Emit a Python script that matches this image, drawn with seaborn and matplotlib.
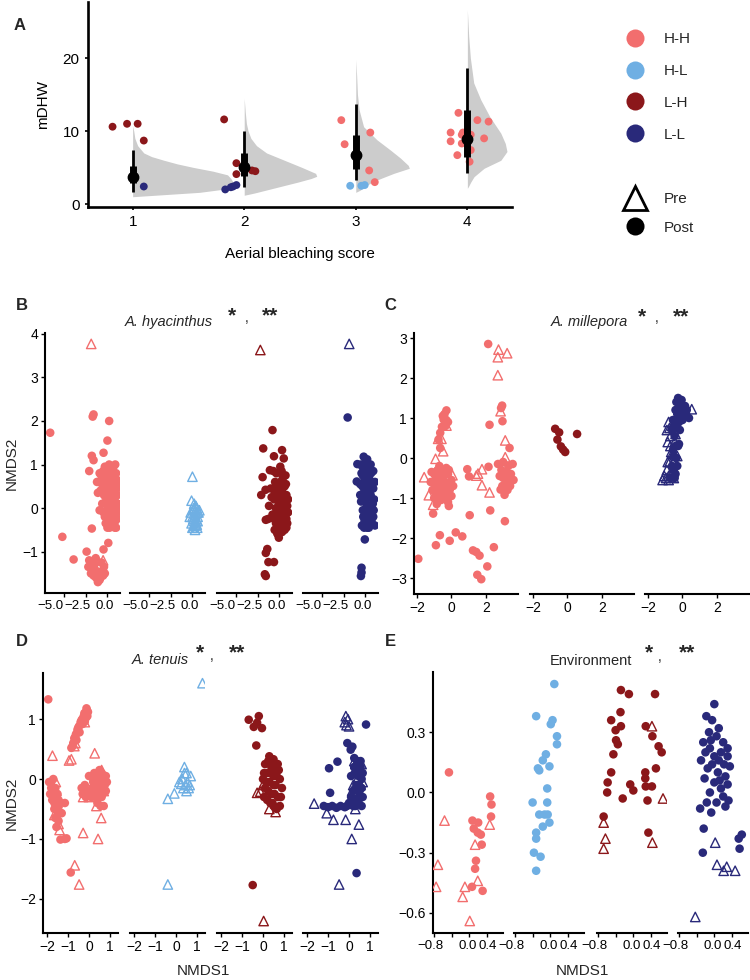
import matplotlib
matplotlib.use("Agg")
import matplotlib.pyplot as plt
import numpy as np
import pandas as pd
import seaborn as sns
from matplotlib.lines import Line2D
from matplotlib.transforms import ScaledTranslation

# ---------------- data ----------------
groups = ["H-H", "H-L", "L-H", "L-L"]
group_colors = ["#F26E6E", "#6FAFE3", "#8B171A", "#29297A"]
PAL = dict(zip(groups, group_colors))

# Panel A: half-eye densities (mDHW level, density width) per aerial bleaching score
scores = [1, 2, 3, 4]
dens_y_s1 = [1.0, 1.3, 1.6, 2.0, 2.5, 3.0, 3.5, 4.0, 4.5, 5.0, 5.5, 6.0, 6.5, 7.0, 8.0, 9.0, 10.0, 10.7]
dens_w_s1 = [0.0, 0.3, 0.6, 0.8, 0.88, 0.9, 0.88, 0.85, 0.72, 0.55, 0.4, 0.28, 0.17, 0.1, 0.045, 0.02, 0.01, 0.0]
dens_y_s2 = [1.2, 1.5, 2.0, 2.5, 3.0, 3.5, 3.8, 4.2, 5.0, 6.0, 7.0, 8.0, 9.0, 10.0, 11.0, 12.5, 14.5]
dens_w_s2 = [0.0, 0.09, 0.22, 0.35, 0.48, 0.6, 0.65, 0.64, 0.52, 0.36, 0.2, 0.11, 0.06, 0.035, 0.02, 0.01, 0.0]
dens_y_s3 = [1.6, 1.9, 2.5, 3.1, 3.6, 4.2, 4.9, 5.3, 6.3, 7.4, 8.8, 10.6, 12.9, 15.0, 17.5, 19.8]
dens_w_s3 = [0.0, 0.04, 0.09, 0.16, 0.24, 0.34, 0.48, 0.47, 0.4, 0.31, 0.19, 0.07, 0.03, 0.015, 0.008, 0.0]
dens_y_s4 = [2.15, 2.4, 3.0, 3.75, 4.9, 6.0, 7.2, 8.3, 9.7, 12.0, 14.3, 16.6, 20.0, 23.0, 26.6]
dens_w_s4 = [0.0, 0.01, 0.03, 0.06, 0.15, 0.3, 0.355, 0.34, 0.3, 0.2, 0.12, 0.057, 0.027, 0.012, 0.0]

median_mdhw = [3.7, 5.1, 6.7, 8.9]
q66_low = [2.9, 3.8, 4.8, 6.5]
q66_high = [5.2, 7.0, 9.5, 12.9]
q95_low = [1.7, 2.4, 3.3, 4.3]
q95_high = [7.4, 10.0, 13.7, 18.6]

A_pt_x = [0.82, 0.95, 1.045, 1.10, 1.10,
          1.82, 1.93, 1.93, 2.07, 2.10, 1.83, 1.88, 1.90, 1.93,
          2.87, 2.90, 3.13, 3.12, 3.17, 2.95, 3.05, 3.08,
          3.92, 3.85, 3.85, 3.95, 3.96, 3.95, 4.00, 4.03, 4.03, 3.91, 4.02, 4.09, 4.19, 4.15]
A_pt_y = [10.6, 11.0, 11.0, 8.7, 2.4,
          11.6, 5.6, 4.1, 4.6, 4.5, 2.0, 2.3, 2.4, 2.6,
          11.5, 8.2, 9.8, 4.6, 3.0, 2.5, 2.5, 2.6,
          12.5, 9.8, 8.6, 9.5, 9.8, 8.3, 8.2, 9.5, 7.4, 6.7, 5.8, 11.5, 11.3, 9.0]
A_pt_group = (["L-H"] * 4 + ["L-L"] +
              ["L-H"] * 5 + ["L-L"] * 4 +
              ["H-H"] * 5 + ["H-L"] * 3 +
              ["H-H"] * 14)

# Panel B: A. hyacinthus NMDS
B_HH_post = [(-6.6, 1.73), (-5.2, -0.66), (-3.9, -1.18), (-1.7, 2.1), (-1.6, 2.15), (0.2, 2.0), (0.0, 1.55),
             (-0.45, 1.27), (-1.8, 1.2), (-1.6, 1.1), (-2.1, 0.85), (-1.8, -0.47), (0.1, -0.8), (-0.45, -0.95),
             (-2.4, -1.0), (-2.1, -1.2), (-1.7, -1.4), (-1.2, -1.45), (-0.8, -1.6), (-1.3, -1.6), (-1.9, -1.5),
             (-0.9, -1.65), (-0.6, -1.45), (-1.1, -1.7), (-0.4, -1.35), (-1.5, -1.3), (-0.7, -1.25), (-1.0, -1.5),
             (-1.6, -1.55), (-0.5, -1.55), (-1.35, -1.15), (-2.2, -1.35), (-0.3, -1.5),
             (-1.0, 0.6), (-0.6, 0.55), (-0.2, 0.7), (0.3, 0.9), (0.7, 0.95), (1.0, 0.8), (0.5, 0.75), (-0.3, 0.95),
             (0.1, 0.45), (0.6, 0.5), (1.1, 0.45), (-0.8, 0.4), (-0.4, 0.3), (0.0, 0.2), (0.4, 0.3), (0.9, 0.25),
             (1.2, 0.1), (-1.2, 0.6), (-0.6, 0.1), (-0.1, -0.05), (0.3, 0.05), (0.7, 0.0), (1.0, -0.1), (-0.9, -0.05),
             (0.5, -0.2), (0.9, -0.3), (0.2, -0.3), (-0.3, -0.2), (0.6, -0.4), (1.0, -0.45), (0.0, -0.45), (0.4, 0.6),
             (0.8, 0.65), (-0.1, 0.5), (0.2, 1.0), (0.9, 1.0), (-0.5, 0.85), (1.2, 0.6), (0.5, 0.15), (0.8, -0.1),
             (1.1, -0.25), (0.3, -0.1), (-0.2, 0.25), (0.6, 0.85), (0.1, 0.7), (-0.7, 0.75), (1.0, 0.3), (0.4, -0.35),
             (0.7, 0.35), (0.2, 0.35),
             (0.05, 0.85), (0.45, 0.95), (0.75, 0.8), (1.05, 0.65), (-0.05, 0.6), (0.35, 0.5), (0.65, 0.6),
             (0.95, 0.5), (-0.35, 0.45), (0.15, 0.3), (0.55, 0.35), (0.85, 0.4), (1.15, 0.3), (-0.15, 0.1),
             (0.25, 0.15), (0.6, 0.2), (0.95, 0.1), (0.05, -0.1), (0.45, -0.05), (0.75, -0.2), (0.15, -0.2),
             (0.55, -0.3), (0.85, -0.45), (0.25, -0.45), (-0.2, -0.35), (0.65, 0.1), (0.35, 0.75), (0.0, 0.35),
             (0.8, 0.15), (1.1, 0.05), (-0.5, 0.65), (-0.9, 0.8), (-1.1, 0.35), (0.5, 0.45), (0.2, 0.6), (0.9, 0.7),
             (0.4, -0.15), (-0.45, -0.1), (0.7, -0.35), (1.15, -0.1)]
B_HH_pre = [(-1.87, 3.77), (-0.5, -1.2)]
B_HL_post = []
B_HL_pre = [(0.0, 0.72), (-0.1, 0.17), (0.2, 0.1), (0.5, 0.0), (0.1, -0.05), (0.7, -0.1), (0.3, -0.15), (-0.2, -0.1),
            (0.6, -0.2), (0.1, -0.25), (0.4, -0.3), (-0.1, -0.35), (0.2, -0.4), (0.5, -0.38), (0.0, -0.45),
            (0.3, -0.5), (0.8, -0.05), (-0.3, -0.2), (0.4, 0.05), (0.6, -0.3),
            (0.15, 0.0), (0.35, -0.05), (0.55, -0.1), (0.25, -0.2), (0.45, -0.25), (0.0, -0.2), (0.2, -0.3),
            (0.35, -0.4), (0.1, -0.45), (0.55, -0.45)]
B_LH_post = [(-0.8, 1.79), (-1.87, 1.37), (0.3, 1.33), (-0.63, 1.19), (0.5, 1.14), (-1.94, 0.71), (-1.1, 0.87),
             (-2.1, 0.3), (-1.6, 0.42), (-1.57, -0.27), (-0.26, -0.57), (-0.07, -0.68), (-1.4, -0.94), (-1.57, -1.03),
             (-1.27, -1.24), (-0.63, -1.24), (-1.68, -1.52), (-1.57, -1.56),
             (-0.5, 0.6), (0.2, 0.55), (0.6, 0.5), (-1.0, 0.45), (-0.2, 0.4), (0.8, 0.3), (0.3, 0.25), (-0.6, 0.2),
             (0.0, 0.1), (0.9, 0.05), (-1.2, 0.05), (0.5, 0.0), (-0.3, -0.05), (0.2, -0.1), (0.7, -0.15), (-0.8, -0.15),
             (0.0, -0.25), (0.4, -0.3), (0.9, -0.35), (-0.4, -0.35), (0.1, -0.45), (0.6, -0.5), (-1.3, -0.25),
             (1.0, 0.2), (-0.1, 0.3), (0.4, 0.7), (-0.7, 0.85), (0.1, 0.95), (-0.4, 0.0), (0.7, 0.75), (0.3, -0.55),
             (-0.2, -0.6), (0.8, -0.45),
             (-0.3, 0.5), (0.1, 0.6), (0.5, 0.3), (-0.1, 0.15), (0.3, 0.05), (0.7, 0.1), (-0.5, 0.35), (0.0, -0.05),
             (0.4, -0.15), (0.8, -0.25), (-0.6, -0.25), (-0.2, -0.15), (0.2, -0.35), (0.6, -0.25), (-0.1, -0.45),
             (0.35, 0.45), (0.75, 0.55), (-0.35, 0.8), (0.25, 0.85), (0.55, -0.4), (-0.9, 0.25), (1.0, -0.1),
             (-0.55, -0.5), (0.15, 0.35)]
B_LH_pre = [(-2.2, 3.63)]
B_LL_post = [(-2.05, 2.08), (-0.93, 1.01), (-1.0, 0.61), (-0.07, -0.72), (-0.45, -1.37), (-0.45, -1.48), (-0.52, -1.56),
             (-0.2, 1.18), (0.2, 1.12), (0.6, 1.0), (-0.5, 1.0), (0.0, 0.9), (0.9, 0.85), (-0.3, 0.75), (0.4, 0.7),
             (1.1, 0.6), (-0.6, 0.55), (0.1, 0.5), (0.7, 0.45), (-0.2, 0.35), (0.4, 0.25), (1.0, 0.2), (-0.5, 0.15),
             (0.1, 0.1), (0.7, 0.0), (-0.3, -0.05), (0.3, -0.15), (0.9, -0.2), (-0.1, -0.3), (0.5, -0.35),
             (-0.4, -0.4), (0.2, -0.45), (1.1, -0.4), (0.8, 0.6), (-0.1, 0.65), (0.5, 0.95),
             (0.0, 1.05), (0.35, 1.0), (-0.35, 0.95), (0.25, 0.85), (0.65, 0.8), (-0.45, 0.8), (0.05, 0.7),
             (0.5, 0.55), (0.9, 0.45), (-0.35, 0.5), (0.25, 0.4), (0.6, 0.3), (-0.1, 0.2), (0.3, 0.05), (0.85, 0.1),
             (0.0, -0.1), (0.5, -0.1), (-0.25, -0.2), (0.15, -0.3), (0.7, -0.3), (-0.15, -0.45), (0.4, -0.45),
             (0.95, -0.05), (-0.6, 0.3)]
B_LL_pre = [(-1.87, 3.77)]

# Panel C: A. millepora NMDS
C_HH_post = [(-1.92, -2.52), (-1.06, -1.39), (-0.9, -2.18), (-0.67, -1.93), (-0.1, -2.07), (0.25, -1.86), (0.63, -1.96),
             (1.06, -1.43), (1.25, -2.31), (1.44, -2.35), (1.63, -2.44), (1.5, -2.92), (1.73, -3.03), (2.08, -2.71),
             (2.46, -2.23), (2.25, -1.31), (3.1, -1.58), (2.21, 0.83), (2.13, 2.85), (2.94, 1.31), (2.88, 1.25),
             (2.96, 0.92), (3.37, 0.25), (0.92, -0.28), (1.02, -0.46), (2.15, -0.22), (3.08, -0.92), (2.85, -0.79),
             (2.7, -0.15), (3.0, -0.1), (3.3, -0.2), (3.55, -0.15), (2.9, -0.3), (3.2, -0.35), (3.45, -0.4),
             (3.0, -0.5), (3.3, -0.55), (3.6, -0.55), (2.8, -0.45), (3.15, -0.65), (3.4, -0.7), (2.95, -0.7),
             (3.25, -0.8),
             (-0.29, 1.19), (-0.4, 1.1), (-0.45, 0.96), (-0.55, 0.78), (-0.65, 0.63), (-0.75, 0.46), (-0.65, 0.25),
             (-0.3, 0.95), (-0.2, 0.9), (-0.5, 1.05), (-0.35, 0.8),
             (-1.2, -0.6), (-1.0, -0.4), (-0.8, -0.3), (-0.6, -0.45), (-0.4, -0.6), (-0.2, -0.4), (0.0, -0.55),
             (-1.1, -0.8), (-0.9, -0.7), (-0.7, -0.6), (-0.5, -0.75), (-0.3, -0.85), (-0.1, -0.8), (0.1, -0.7),
             (-1.0, -1.0), (-0.8, -0.95), (-0.6, -1.05), (-0.4, -1.0), (-0.2, -1.1), (0.0, -0.95), (-0.7, -0.2),
             (-0.9, -0.5), (-0.5, -0.3), (-0.3, -0.25), (-0.85, -1.15), (-0.15, -1.2), (-1.15, -0.35), (-0.65, -0.85),
             (-1.05, -0.6), (-0.75, -0.45), (-0.45, -0.45), (-0.25, -0.65), (-0.95, -0.85), (-0.55, -0.95),
             (-0.35, -0.75), (-0.05, -0.65), (-0.9, -0.35), (-0.6, -0.6), (-0.8, -0.75), (-0.15, -0.3)]
C_HH_pre = [(2.73, 2.71), (3.23, 2.62), (2.69, 2.52), (2.69, 2.07), (2.85, 1.17), (3.12, 0.44), (3.12, 0.02),
            (1.77, -0.28), (1.54, -0.39), (1.44, -0.44), (1.77, -0.68), (2.21, -0.86), (-1.58, -0.48),
            (-0.92, -0.02), (-0.77, 0.48), (-0.58, 0.48), (-0.48, 0.17), (-0.29, 0.81), (0.06, -0.43),
            (-1.31, -0.93), (-1.06, -1.17)]
C_LH_post = [(-0.71, 0.73), (-0.48, 0.64), (-0.58, 0.46), (-0.38, 0.29), (-0.25, 0.21), (-0.13, 0.15), (0.56, 0.6)]
C_LH_pre = []
C_LL_post = [(-0.25, 1.5), (-0.1, 1.3), (0.1, 1.25), (-0.4, 1.2), (0.2, 1.1), (-0.2, 1.05), (0.38, 1.0), (-0.55, 0.95),
             (0.0, 0.95), (-0.3, 0.85), (-0.6, 0.7), (-0.15, 0.7), (-0.45, 0.55), (-0.25, 0.3), (-0.55, 0.2),
             (-0.35, 0.0), (-0.6, -0.2), (-0.4, -0.4), (-0.7, -0.5), (-0.2, 0.35), (-0.5, -0.3), (0.05, 1.15),
             (-0.35, 1.4),
             (-0.15, 1.2), (0.15, 1.3), (-0.05, 1.45), (0.25, 1.2), (-0.3, 1.1), (0.1, 1.05), (-0.45, 0.8),
             (-0.2, 0.9), (-0.4, 0.3), (-0.3, -0.2), (-0.5, 0.05), (-0.45, -0.5)]
C_LL_pre = [(0.54, 1.22), (-0.8, 0.9), (-0.9, 0.7), (-0.7, 0.55), (-0.85, 0.4), (-0.6, 0.1), (-0.75, -0.1),
            (-0.9, -0.3), (-1.05, -0.45), (-0.8, -0.55), (-1.15, -0.55), (-0.5, -0.5), (-0.65, 0.15), (-0.4, 0.6),
            (-0.95, -0.5), (-0.3, 0.05),
            (-0.6, 0.8), (-0.75, 0.75), (-0.45, 0.4), (-0.7, 0.3), (-0.55, -0.1), (-0.85, -0.1), (-0.65, -0.35),
            (-0.8, -0.45)]

# Panel D: A. tenuis NMDS
D_HH_post = [(-1.94, 1.33), (-0.87, -1.56), (-1.36, -1.01), (-1.15, -1.0), (-1.07, -0.99), (-1.15, -0.4), (-1.3, -0.57),
             (-0.84, 0.52), (-0.75, 0.6), (-0.7, 0.68), (-0.62, 0.75), (-0.55, 0.82), (-0.48, 0.88), (-0.4, 0.95),
             (-0.32, 1.0), (-0.25, 1.05), (-0.18, 1.1), (-0.1, 1.15), (-0.05, 1.12), (-0.15, 1.02), (-0.3, 0.92),
             (-0.45, 0.78), (-0.6, 0.65), (-0.2, 0.96), (-0.08, 1.05),
             (-0.78, 0.55), (-0.66, 0.7), (-0.52, 0.85), (-0.36, 0.98), (-0.22, 1.1), (-0.12, 1.18),
             (-1.9, -0.05), (-1.8, -0.15), (-1.7, -0.25), (-1.75, -0.35), (-1.6, -0.3), (-1.55, -0.45), (-1.65, -0.5),
             (-1.5, -0.6), (-1.45, -0.7), (-1.55, -0.8), (-1.4, -0.55), (-1.8, -0.05), (-1.7, 0.0), (-1.35, -0.4),
             (-1.6, -0.15), (-1.45, -0.35),
             (-1.75, -0.2), (-1.65, -0.4), (-1.5, -0.5), (-1.6, -0.65), (-1.5, -0.25), (-1.85, -0.25),
             (-0.35, -0.15), (-0.2, -0.1), (0.0, -0.2), (0.2, -0.05), (0.4, 0.05), (0.6, 0.1), (0.7, 0.0),
             (0.5, -0.15), (0.3, -0.25), (0.1, -0.3), (-0.1, -0.2), (0.6, -0.3), (0.8, -0.2), (0.4, -0.4),
             (0.7, -0.45), (0.2, 0.0), (-0.3, -0.25), (0.5, 0.15), (0.85, -0.05), (0.3, -0.1), (0.65, -0.25),
             (0.45, -0.3), (0.55, 0.0),
             (0.0, 0.05), (0.25, 0.1), (0.45, -0.05), (0.75, -0.1), (0.15, -0.15), (0.35, -0.3), (0.55, -0.45),
             (-0.15, -0.3), (0.8, 0.05), (0.6, -0.05)]
D_HH_pre = [(-1.74, 0.39), (-0.95, 0.31), (-0.84, 0.33), (0.27, 0.43), (-0.28, -0.3), (-0.28, -0.9), (0.43, -1.0),
            (0.58, -0.65), (-0.68, -1.44), (-0.47, -1.76), (-1.58, -0.05), (-1.55, -0.2), (-1.5, -0.4),
            (-1.45, -0.75), (-1.4, -0.85), (-0.7, 0.55), (-0.65, 0.6), (-0.2, 0.95), (0.0, -0.3), (0.35, -0.45),
            (0.6, 0.15), (0.7, -0.2), (-1.65, -0.6)]
D_HL_post = []
D_HL_pre = [(1.26, 1.6), (-0.39, -1.76), (-0.39, -0.33), (-0.08, -0.24), (0.16, -0.05), (0.4, 0.2), (0.5, 0.1),
            (0.3, 0.0), (0.55, -0.05), (0.7, 0.05), (0.45, -0.1), (0.35, -0.15), (0.6, -0.15), (0.4, 0.1),
            (0.5, -0.2), (0.25, -0.08), (0.65, -0.1)]
D_LH_post = [(-0.68, 0.99), (-0.2, 1.05), (-0.44, 0.87), (-0.05, 0.85), (-0.28, 0.94), (-0.32, 0.56), (-0.49, -1.77),
             (0.3, 0.38), (0.5, 0.33), (0.1, 0.25), (0.4, 0.2), (0.7, 0.25), (0.2, 0.1), (0.5, 0.05), (0.8, 0.0),
             (0.0, 0.0), (0.3, -0.05), (0.6, -0.1), (0.9, -0.15), (0.1, -0.15), (0.4, -0.25), (0.7, -0.3),
             (0.2, -0.35), (0.5, -0.45), (0.8, -0.45), (0.35, 0.3), (0.6, 0.18), (0.15, -0.05), (0.65, -0.5),
             (0.45, -0.4),
             (0.25, 0.3), (0.55, 0.25), (0.05, 0.1), (0.35, 0.1), (0.65, 0.05), (0.25, -0.2), (0.55, -0.25),
             (0.85, -0.3), (0.05, -0.3), (0.35, -0.4), (0.75, 0.15), (0.5, -0.1)]
D_LH_pre = [(-0.28, -0.23), (-0.13, -0.21), (0.03, -2.37), (0.3, -0.5), (0.6, -0.55), (0.0, -0.1)]
D_LL_post = [(0.81, 0.91), (0.36, -1.57), (-0.9, -0.23), (-0.95, 0.18), (-0.55, 0.29), (-0.08, 0.6), (0.16, 0.54),
             (0.08, 0.49), (-1.2, -0.45), (-1.0, -0.47), (-0.8, -0.45), (-0.6, -0.48), (-0.4, -0.45), (-0.2, -0.47),
             (0.0, -0.4), (0.2, -0.45), (0.4, -0.35), (0.5, -0.2), (0.6, 0.0), (0.55, 0.2), (0.4, 0.3), (0.3, 0.1),
             (0.2, -0.2), (0.1, -0.3), (0.45, -0.1), (0.65, -0.3), (0.3, -0.35), (0.5, 0.1), (0.1, 0.05),
             (0.35, 0.2), (0.6, -0.15), (0.25, 0.35),
             (0.3, -0.45), (0.5, -0.3), (0.6, -0.45), (0.45, 0.05), (0.35, -0.1), (0.55, 0.3), (0.25, 0.2),
             (0.15, -0.4), (-0.1, -0.45), (0.65, 0.1)]
D_LL_pre = [(-0.2, 0.95), (-0.05, 1.0), (-0.12, 0.9), (-0.15, 1.05), (0.0, 0.88), (-1.66, -0.41), (-1.06, -0.57),
            (-0.74, -0.68), (-0.16, -0.68), (0.13, -1.0), (0.47, -0.76), (-0.47, -1.76), (0.3, -0.5), (0.5, -0.4),
            (0.4, 0.0), (0.55, -0.1), (0.2, 0.1), (0.35, -0.2), (0.6, 0.25), (0.45, 0.15), (0.15, -0.2),
            (0.25, 0.3), (0.2, -0.1), (0.5, 0.2), (0.4, -0.3), (0.65, -0.05), (0.3, 0.25)]

# Panel E: Environment NMDS
E_HH_post = [(-0.46, 0.10), (0.47, -0.02), (0.5, -0.06), (0.49, -0.12), (0.07, -0.14), (0.2, -0.15), (0.1, -0.18),
             (0.19, -0.2), (0.26, -0.21), (0.28, -0.26), (0.15, -0.34), (0.13, -0.38), (0.06, -0.47), (0.3, -0.49)]
E_HH_pre = [(-0.56, -0.14), (-0.71, -0.36), (-0.75, -0.47), (-0.15, -0.52), (-0.1, -0.47), (0.19, -0.44),
            (0.13, -0.26), (0.01, -0.64), (0.46, -0.16)]
E_HL_post = [(0.09, 0.54), (-0.32, 0.38), (0.05, 0.36), (0.01, 0.34), (0.15, 0.28), (0.15, 0.24), (-0.1, 0.19),
             (-0.17, 0.16), (-0.28, 0.12), (-0.25, 0.11), (-0.02, 0.13), (-0.07, 0.02), (-0.4, -0.05), (-0.07, -0.05),
             (-0.25, -0.11), (-0.13, -0.11), (-0.06, -0.11), (-0.02, -0.15), (-0.17, -0.17), (-0.32, -0.2),
             (-0.32, -0.23), (-0.37, -0.3), (-0.22, -0.32), (-0.32, -0.39)]
E_HL_pre = []
E_LH_post = [(-0.28, 0.51), (-0.1, 0.49), (-0.29, 0.4), (-0.5, 0.36), (-0.28, 0.33), (-0.4, 0.31), (-0.39, 0.26),
             (-0.35, 0.24), (-0.45, 0.19), (0.49, 0.49), (0.28, 0.33), (0.43, 0.28), (0.57, 0.23), (0.64, 0.2),
             (0.51, 0.12), (-0.5, 0.1), (-0.58, 0.05), (-0.59, 0.0), (0.27, 0.1), (0.27, 0.07), (-0.07, 0.04),
             (0.0, 0.01), (-0.24, -0.03), (0.28, 0.03), (0.42, 0.03), (0.32, -0.04), (-0.67, -0.12), (0.34, -0.2)]
E_LH_pre = [(0.42, 0.33), (0.67, -0.03), (-0.67, -0.15), (-0.63, -0.23), (-0.67, -0.28), (0.43, -0.25)]
E_LL_post = [(0.0, 0.44), (-0.18, 0.38), (-0.05, 0.36), (0.1, 0.32), (-0.12, 0.3), (0.05, 0.28), (0.2, 0.25),
             (-0.25, 0.25), (-0.1, 0.22), (0.15, 0.2), (0.3, 0.18), (-0.2, 0.2), (0.0, 0.18), (0.1, 0.16),
             (-0.3, 0.16), (0.22, 0.14), (-0.05, 0.14), (0.35, 0.13), (-0.15, 0.12), (0.08, 0.1), (0.25, 0.08),
             (-0.22, 0.07), (0.0, 0.05), (0.3, 0.04), (0.15, 0.02), (-0.1, 0.0), (0.2, -0.02), (0.05, -0.05),
             (-0.32, -0.08), (-0.17, -0.05), (-0.07, -0.1), (0.25, -0.07), (-0.24, -0.18), (-0.26, -0.3),
             (0.62, -0.21), (0.55, -0.23), (0.57, -0.28), (0.3, 0.22), (-0.08, 0.26), (0.12, 0.06), (0.32, -0.04)]
E_LL_pre = [(-0.43, -0.62), (0.02, -0.25), (0.06, -0.36), (0.21, -0.39), (0.28, -0.37), (0.47, -0.39)]

# ---------------- build tables ----------------
rows = []
for panel, g, t, pts in [
    ("B", "H-H", "Post", B_HH_post), ("B", "H-H", "Pre", B_HH_pre), ("B", "H-L", "Post", B_HL_post),
    ("B", "H-L", "Pre", B_HL_pre), ("B", "L-H", "Post", B_LH_post), ("B", "L-H", "Pre", B_LH_pre),
    ("B", "L-L", "Post", B_LL_post), ("B", "L-L", "Pre", B_LL_pre),
    ("C", "H-H", "Post", C_HH_post), ("C", "H-H", "Pre", C_HH_pre), ("C", "L-H", "Post", C_LH_post),
    ("C", "L-H", "Pre", C_LH_pre), ("C", "L-L", "Post", C_LL_post), ("C", "L-L", "Pre", C_LL_pre),
    ("D", "H-H", "Post", D_HH_post), ("D", "H-H", "Pre", D_HH_pre), ("D", "H-L", "Post", D_HL_post),
    ("D", "H-L", "Pre", D_HL_pre), ("D", "L-H", "Post", D_LH_post), ("D", "L-H", "Pre", D_LH_pre),
    ("D", "L-L", "Post", D_LL_post), ("D", "L-L", "Pre", D_LL_pre),
    ("E", "H-H", "Post", E_HH_post), ("E", "H-H", "Pre", E_HH_pre), ("E", "H-L", "Post", E_HL_post),
    ("E", "H-L", "Pre", E_HL_pre), ("E", "L-H", "Post", E_LH_post), ("E", "L-H", "Pre", E_LH_pre),
    ("E", "L-L", "Post", E_LL_post), ("E", "L-L", "Pre", E_LL_pre)]:
    for x, y in pts:
        rows.append((panel, g, t, x, y))
nmds = pd.DataFrame(rows, columns=["panel", "group", "time", "x", "y"])
dfA = pd.DataFrame({"x": A_pt_x, "y": A_pt_y, "group": A_pt_group})

# ---------------- figure ----------------
sns.set_theme(style="ticks")
plt.rcParams["font.family"] = ["Liberation Sans", "DejaVu Sans"]
plt.rcParams["axes.unicode_minus"] = True

W, H = 750, 980
fig = plt.figure(figsize=(7.5, 9.8), dpi=100)


def add_ax(left, top, width, height):
    return fig.add_axes([left / W, 1 - (top + height) / H, width / W, height / H])


def ftext(x, y, s, **kw):
    kw.setdefault("ha", "center")
    kw.setdefault("va", "center")
    fig.text(x / W, 1 - y / H, s, **kw)


# ---- Panel A ----
axA = add_ax(88, 2, 424, 205)
dens_y = [dens_y_s1, dens_y_s2, dens_y_s3, dens_y_s4]
dens_w = [dens_w_s1, dens_w_s2, dens_w_s3, dens_w_s4]
for s, ys, ws in zip(scores, dens_y, dens_w):
    axA.fill_betweenx(ys, s, s + np.asarray(ws), color="#CCCCCC", lw=0, zorder=1)
sns.scatterplot(data=dfA, x="x", y="y", hue="group", palette=PAL, s=32, edgecolor="none",
                legend=False, ax=axA, zorder=2)
for s, m, l66, h66, l95, h95 in zip(scores, median_mdhw, q66_low, q66_high, q95_low, q95_high):
    axA.plot([s, s], [l95, h95], color="black", lw=2.0, solid_capstyle="butt", zorder=3)
    axA.plot([s, s], [l66, h66], color="black", lw=5.0, solid_capstyle="butt", zorder=3)
    axA.plot([s], [m], "o", color="black", ms=7.5, zorder=4)
axA.set_xlim(0.6, 4.4)
axA.set_ylim(-0.41, 27.7)
axA.set_xticks(scores)
axA.set_yticks([0, 10, 20])
axA.set_xlabel("Aerial bleaching score", fontsize=11, color="black")
axA.set_ylabel("mDHW", fontsize=11, color="black")
axA.xaxis.set_label_coords(0.5, -0.195)
axA.yaxis.set_label_coords(-0.09, 0.5)
for side in ["top", "right"]:
    axA.spines[side].set_visible(False)
for side in ["left", "bottom"]:
    axA.spines[side].set_linewidth(1.9)
    axA.spines[side].set_color("black")
axA.tick_params(axis="both", labelsize=11, length=2.5, width=1.2, colors="black", direction="out")

ftext(20, 26, "A", fontsize=12, fontweight="bold")

# legend
h_groups = [Line2D([0], [0], marker="o", ls="none", markerfacecolor=c, markeredgecolor="none", markersize=13)
            for c in group_colors]
fig.legend(h_groups, groups, loc="upper left", bbox_to_anchor=(624 / W, 1 - 32 / H), frameon=False,
           fontsize=11, handlelength=1.4, handletextpad=1.2, labelspacing=1.17, borderpad=0, borderaxespad=0)
h_time = [Line2D([0], [0], marker="^", ls="none", markerfacecolor="none", markeredgecolor="black",
                 markeredgewidth=2.0, markersize=17),
          Line2D([0], [0], marker="o", ls="none", markerfacecolor="black", markeredgecolor="none", markersize=13)]
fig.legend(h_time, ["Pre", "Post"], loc="upper left", bbox_to_anchor=(624 / W, 1 - 192 / H), frameon=False,
           fontsize=11, handlelength=1.4, handletextpad=1.2, labelspacing=0.95, borderpad=0, borderaxespad=0)


# ---- NMDS facet panels ----
def facet_panel(panel, gkeys, lefts, top, width, height, xlim, ylim, xticks, xlabels, yticks, ylabels,
                xfont=10, xshift=None):
    axes = []
    sub = nmds[nmds["panel"] == panel]
    for i, g in enumerate(gkeys):
        ax = add_ax(lefts[i], top, width, height)
        col = PAL[g]
        dpost = sub[(sub["group"] == g) & (sub["time"] == "Post")]
        dpre = sub[(sub["group"] == g) & (sub["time"] == "Pre")]
        if len(dpost):
            sns.scatterplot(data=dpost, x="x", y="y", color=col, s=38, edgecolor="none", linewidth=0,
                            ax=ax, legend=False, zorder=2)
        if len(dpre):
            sns.scatterplot(data=dpre, x="x", y="y", marker="^", s=46, color=col, facecolor="none",
                            edgecolor=col, linewidth=1.0, ax=ax, legend=False, zorder=3)
        ax.set_xlim(xlim)
        ax.set_ylim(ylim)
        ax.set_xticks(xticks)
        ax.set_xticklabels(xlabels)
        ax.set_xlabel("")
        ax.set_ylabel("")
        ax.spines["top"].set_visible(False)
        ax.spines["right"].set_visible(False)
        ax.spines["bottom"].set_linewidth(1.5)
        ax.spines["bottom"].set_color("black")
        ax.tick_params(axis="x", labelsize=xfont, length=3, width=1.0, colors="black", pad=2)
        if i == 0:
            ax.set_yticks(yticks)
            ax.set_yticklabels(ylabels)
            ax.spines["left"].set_linewidth(1.5)
            ax.spines["left"].set_color("black")
            ax.tick_params(axis="y", labelsize=10, length=3, width=1.0, colors="black", pad=2)
        else:
            ax.spines["left"].set_visible(False)
            ax.set_yticks([])
        if xshift is not None:
            for lab, dx in zip(ax.get_xticklabels(), xshift):
                lab.set_transform(lab.get_transform() + ScaledTranslation(dx / 100.0, 0, fig.dpi_scale_trans))
        ax.patch.set_alpha(0)
        axes.append(ax)
    return axes


M = "\u2212"
facet_panel("B", groups, [45, 130, 217, 303], 333, 75, 260, (-7.2, 1.45), (-1.95, 4.02),
            [-5, -2.5, 0], [M + "5.0", M + "2.5", "0.0"], [-1, 0, 1, 2, 3, 4],
            [M + "1", "0", "1", "2", "3", "4"], xfont=9.5, xshift=[-14, -8, -3])
facet_panel("C", ["H-H", "L-H", "L-L"], [414, 530, 645], 333, 104, 261, (-2.17, 3.86), (-3.4, 3.125),
            [-2, 0, 2], [M + "2", "0", "2"], [-3, -2, -1, 0, 1, 2, 3],
            [M + "3", M + "2", M + "1", "0", "1", "2", "3"])
facet_panel("D", groups, [43, 130, 217, 303], 673, 75, 260, (-2.19, 1.38), (-2.57, 1.77),
            [-2, -1, 0, 1], [M + "2", M + "1", "0", "1"], [-2, -1, 0, 1],
            [M + "2", M + "1", "0", "1"])
facet_panel("E", groups, [433, 514, 597, 678], 672, 70, 261, (-0.82, 0.76), (-0.70, 0.60),
            [-0.8, -0.4, 0.0, 0.4], [M + "0.8", "", "0.0", "0.4"], [-0.6, -0.3, 0.0, 0.3],
            [M + "0.6", M + "0.3", "0.0", "0.3"], xfont=9.5, xshift=[-3, 0, -2, 1])

# axis titles
ftext(12, 463, "NMDS2", fontsize=11, rotation=90)
ftext(12, 803, "NMDS2", fontsize=11, rotation=90)
ftext(203, 971, "NMDS1", fontsize=11)
ftext(582, 971, "NMDS1", fontsize=11)

# panel letters
ftext(22, 305, "B", fontsize=12, fontweight="bold")
ftext(390, 305, "C", fontsize=12, fontweight="bold")
ftext(22, 641, "D", fontsize=12, fontweight="bold")
ftext(390, 641, "E", fontsize=12, fontweight="bold")


# panel titles with significance marks
def title_marks(x_text, y_text, label, italic, x_s1, x_comma, x_s2, y_star):
    ftext(x_text, y_text, label, fontsize=10.5, style="italic" if italic else "normal", ha="left")
    ftext(x_s1, y_star, "*", fontsize=15, fontweight="bold")
    ftext(x_comma, y_text - 4, ",", fontsize=10)
    ftext(x_s2, y_star, "**", fontsize=15, fontweight="bold")


title_marks(125, 322, "A. hyacinthus", True, 232, 247, 270, 316)
title_marks(551, 322, "A. millepora", True, 642, 657, 681, 317)
title_marks(132, 660, "A. tenuis", True, 200, 212, 237, 653)
title_marks(550, 661, "Environment", False, 649, 660, 687, 653)

fig.savefig("out.png", dpi=100)
